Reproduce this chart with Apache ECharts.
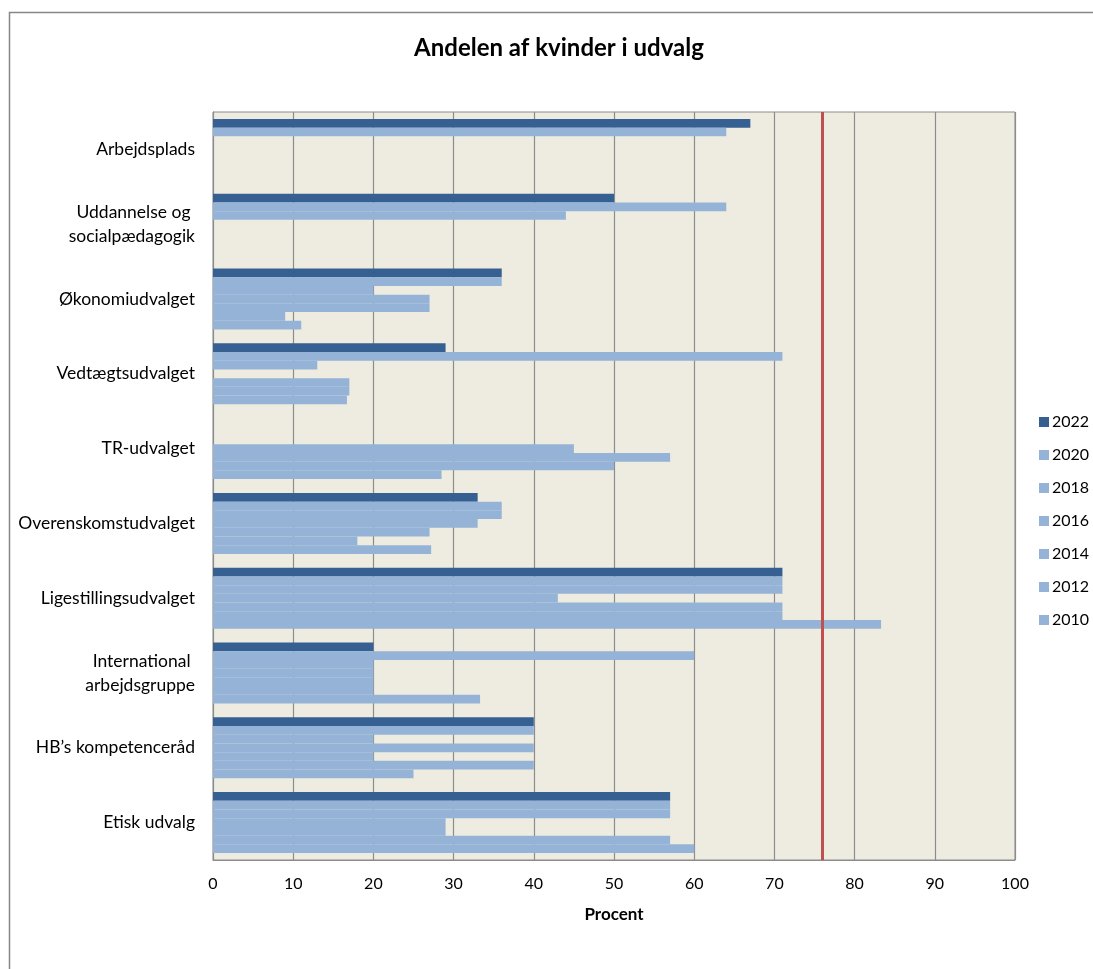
<!DOCTYPE html>
<html>
<head>
<meta charset="utf-8">
<script src="https://cdn.jsdelivr.net/npm/echarts@6/dist/echarts.min.js"></script>
<style>
html,body{margin:0;padding:0;background:#fff;overflow:hidden;}
#chart{width:1093px;height:969px;}
</style>
</head>
<body>
<div id="chart"></div>
<script>
const categories = ['Arbejdsplads', 'Uddannelse og \nsocialpædagogik', 'Økonomiudvalget', 'Vedtægtsudvalget', 'TR-udvalget', 'Overenskomstudvalget', 'Ligestillingsudvalget', 'International \narbejdsgruppe', 'HB\u2019s kompetenceråd', 'Etisk udvalg'];
const years = ['2022', '2020', '2018', '2016', '2014', '2012', '2010'];
const v2022 = [67, 50, 36, 29, null, 33, 71, 20, 40, 57];
const v2020 = [64, 64, 36, 71, null, 36, 71, 60, 40, 57];
const v2018 = [null, 44, 20, 13, null, 36, 71, 20, 20, 57];
const v2016 = [null, null, 27, null, 45, 33, 43, 20, 40, 29];
const v2014 = [null, null, 27, 17, 57, 27, 71, 20, 20, 29];
const v2012 = [null, null, 9, 17, 50, 18, 71, 20, 40, 57];
const v2010 = [null, null, 11, 16.7, 28.5, 27.2, 83.3, 33.3, 25, 60];
const targetLine = 76;
const xTicks = [0, 10, 20, 30, 40, 50, 60, 70, 80, 90, 100];

const seriesValues = [v2022, v2020, v2018, v2016, v2014, v2012, v2010];
const darkBlue = '#366092';
const lightBlue = '#95B3D7';
const font = 'Lato, "Open Sans", sans-serif';

const series = seriesValues.map((vals, i) => {
  const s = {
    name: years[i],
    type: 'bar',
    data: vals,
    barGap: '0%',
    barCategoryGap: '18.5%',
    itemStyle: { color: i === 0 ? darkBlue : lightBlue },
    emphasis: { disabled: true },
    animation: false
  };
  if (i === 0) {
    s.markLine = {
      silent: true,
      symbol: ['none', 'none'],
      label: { show: false },
      lineStyle: { color: '#C0504D', width: 3, type: 'solid' },
      data: [{ xAxis: targetLine }],
      animation: false
    };
  }
  return s;
});

const chart = echarts.init(document.getElementById('chart'), null, { renderer: 'canvas' });
chart.setOption({
  backgroundColor: '#ffffff',
  animation: false,
  title: {
    text: 'Andelen af kvinder i udvalg',
    left: 554,
    textAlign: 'center',
    top: 31,
    textStyle: { fontFamily: font, fontSize: 24, fontWeight: 'bold', color: '#000' }
  },
  graphic: [{
    type: 'polyline',
    shape: { points: [[9.5, 1200], [9.5, 12.5], [1200, 12.5]] },
    style: { fill: null, stroke: '#868686', lineWidth: 1.5 },
    silent: true
  }],
  legend: {
    orient: 'vertical',
    left: 1034,
    top: 409,
    itemWidth: 10,
    itemHeight: 10,
    itemGap: 17,
    icon: 'rect',
    textStyle: { fontFamily: font, fontSize: 16, color: '#000', padding: [0, 0, 0, -2] },
    data: years
  },
  grid: {
    left: 213, top: 112, width: 802, height: 748,
    show: true,
    backgroundColor: '#EEECE1',
    borderColor: '#8C8C8C',
    borderWidth: 1
  },
  xAxis: {
    type: 'value',
    min: xTicks[0],
    max: xTicks[xTicks.length - 1],
    interval: 10,
    name: 'Procent',
    nameLocation: 'middle',
    nameGap: 46,
    nameTextStyle: { fontFamily: font, fontSize: 17, fontWeight: 'bold', color: '#000' },
    axisLine: { show: true, lineStyle: { color: '#8C8C8C' } },
    axisTick: { show: false },
    axisLabel: { fontFamily: font, fontSize: 16, color: '#000', margin: 16 },
    splitLine: { show: true, lineStyle: { color: '#8C8C8C', width: 1.2 } }
  },
  yAxis: {
    type: 'category',
    inverse: true,
    data: categories,
    axisLine: { show: true, lineStyle: { color: '#8C8C8C' } },
    axisTick: { show: false },
    axisLabel: { fontFamily: font, fontSize: 17.5, color: '#000', margin: 18, lineHeight: 24, align: 'right' },
    splitLine: { show: false }
  },
  series: series
});
</script>
</body>
</html>
